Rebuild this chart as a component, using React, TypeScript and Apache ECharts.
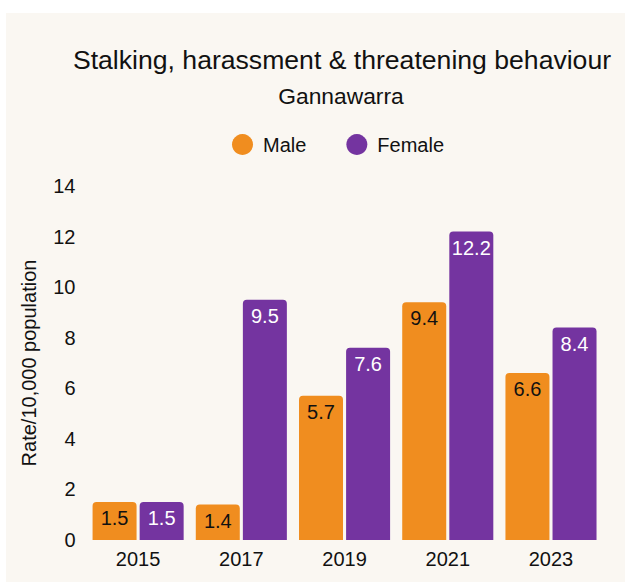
import React, { useEffect, useRef } from "react";
import * as echarts from "echarts";

const categories = ["2015", "2017", "2019", "2021", "2023"];
const maleValues = [1.5, 1.4, 5.7, 9.4, 6.6];
const femaleValues = [1.5, 9.5, 7.6, 12.2, 8.4];
const yTicks = { min: 0, max: 14, interval: 2 };

const FONT = "'Liberation Sans', Arial, Helvetica, sans-serif";
const ORANGE = "#F08D1F";
const PURPLE = "#7434A0";
const BG = "#FAF7F2";

export default function App() {
  const ref = useRef<HTMLDivElement>(null);
  useEffect(() => {
    if (!ref.current) return;
    const chart = echarts.init(ref.current, undefined, { renderer: "svg" });
    chart.setOption({
      animation: false,
      backgroundColor: "#ffffff",
      textStyle: { fontFamily: FONT },
      graphic: [
        {
          type: "rect",
          z: -10,
          silent: true,
          shape: { x: 6, y: 13, width: 619, height: 569 },
          style: { fill: BG },
        },
      ],
      title: [
        {
          text: "Stalking, harassment & threatening behaviour",
          left: 337,
          top: 41,
          textAlign: "center",
          textStyle: { fontFamily: FONT, fontSize: 26.6, fontWeight: "normal", color: "#111" },
        },
        {
          text: "Gannawarra",
          left: 336,
          top: 79,
          textAlign: "center",
          textStyle: { fontFamily: FONT, fontSize: 22.8, fontWeight: "normal", color: "#111" },
        },
      ],
      legend: {
        left: 227,
        top: 129,
        icon: "circle",
        itemWidth: 21,
        itemHeight: 21,
        itemGap: 40,
        textStyle: { fontFamily: FONT, fontSize: 20, color: "#111", padding: [0, 0, 0, 5] },
        data: ["Male", "Female"],
      },
      grid: { left: 86.5, right: 22.4, top: 186, bottom: 43, containLabel: false },
      xAxis: {
        type: "category",
        data: categories,
        axisLine: { show: false },
        axisTick: { show: false },
        axisLabel: { fontFamily: FONT, fontSize: 20, color: "#111", margin: 9 },
      },
      yAxis: {
        type: "value",
        min: yTicks.min,
        max: yTicks.max,
        interval: yTicks.interval,
        name: "Rate/10,000 population",
        nameLocation: "middle",
        nameGap: 48,
        nameTextStyle: { fontFamily: FONT, fontSize: 20, color: "#111" },
        axisLine: { show: false },
        axisTick: { show: false },
        splitLine: { show: false },
        axisLabel: { fontFamily: FONT, fontSize: 20, color: "#111", margin: 11 },
      },
      series: [
        {
          name: "Male",
          type: "bar",
          data: maleValues,
          barWidth: 44,
          barGap: "7%",
          itemStyle: { color: ORANGE, borderRadius: [4, 4, 0, 0] },
          label: {
            show: true,
            position: "insideTop",
            distance: 6,
            fontFamily: FONT,
            fontSize: 20,
            color: "#111",
          },
        },
        {
          name: "Female",
          type: "bar",
          data: femaleValues,
          barWidth: 44,
          barGap: "7%",
          itemStyle: { color: PURPLE, borderRadius: [4, 4, 0, 0] },
          label: {
            show: true,
            position: "insideTop",
            distance: 6,
            fontFamily: FONT,
            fontSize: 20,
            color: "#ffffff",
          },
        },
      ],
    });
    return () => chart.dispose();
  }, []);
  return (
    <div style={{ position: "fixed", left: 0, top: 0, width: 625, height: 583, background: "#fff" }}>
      <div ref={ref} style={{ width: 625, height: 583 }} />
    </div>
  );
}
